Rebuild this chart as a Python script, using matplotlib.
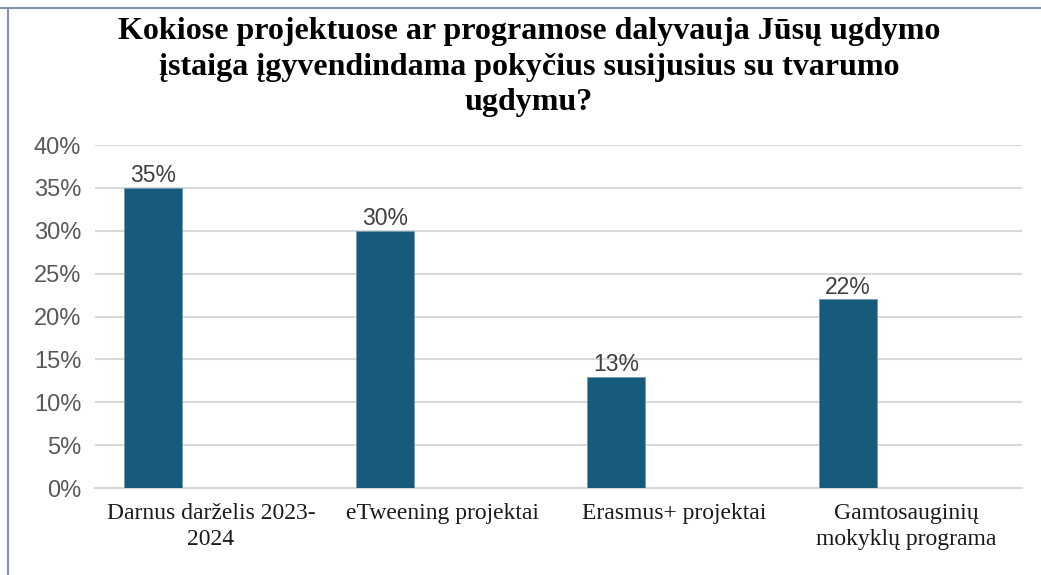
import matplotlib
matplotlib.use("Agg")
import matplotlib.pyplot as plt
from matplotlib.lines import Line2D
from matplotlib.ticker import PercentFormatter

# data
categories = ["Darnus darželis 2023-\n2024", "eTweening projektai",
              "Erasmus+ projektai", "Gamtosauginių\nmokyklų programa"]
values = [0.35, 0.30, 0.13, 0.22]
yticks = [0, 0.05, 0.10, 0.15, 0.20, 0.25, 0.30, 0.35, 0.40]

title = ("Kokiose projektuose ar programose dalyvauja Jūsų ugdymo\n"
         "įstaiga įgyvendindama pokyčius susijusius su tvarumo\n"
         "ugdymu?")

bar_color = "#175b7c"
grid_color = "#d9d9d9"

fig = plt.figure(figsize=(10.41, 5.75), dpi=100)
ax = fig.add_axes([0.0913, 0.1513, 0.8904, 0.5965])

x = list(range(len(categories)))
bars = ax.bar([i - 0.25 for i in x], values, width=0.25,
              color=bar_color, edgecolor="#6f9bb3", linewidth=0.6, zorder=3)

for b, v in zip(bars, values):
    ax.text(b.get_x() + b.get_width() / 2, v + 0.001, f"{v:.0%}",
            ha="center", va="bottom", fontsize=16.5, color="#404040",
            family="Liberation Sans", zorder=4)

ax.set_xlim(-0.5, len(categories) - 0.5)
ax.set_ylim(0, 0.40)
ax.set_yticks(yticks)
ax.yaxis.set_major_formatter(PercentFormatter(1.0, decimals=0))
ax.set_xticks(x)
ax.set_xticklabels(categories, family="Liberation Serif", fontsize=17,
                   color="#1a1a1a", linespacing=1.3)
for lab in ax.get_yticklabels():
    lab.set_family("Liberation Sans")
    lab.set_fontsize(17)
    lab.set_color("#595959")

ax.grid(axis="y", color=grid_color, linewidth=1.5, zorder=0)
ax.tick_params(axis="both", length=0)
ax.tick_params(axis="x", pad=11)
ax.tick_params(axis="y", pad=10)
for s in ["top", "right", "left"]:
    ax.spines[s].set_visible(False)
ax.spines["bottom"].set_color(grid_color)
ax.spines["bottom"].set_linewidth(1.5)

fig.text(0.508, 1 - 17 / 575, title, ha="center", va="top",
         family="Liberation Serif", fontweight="bold", fontsize=23,
         linespacing=1.3, color="black")

# thin frame edges at top and left of the picture
fig.add_artist(Line2D([0, 1], [1 - 8 / 575] * 2, transform=fig.transFigure,
                      color="#8494a6", linewidth=1.5))
fig.add_artist(Line2D([7.5 / 1041] * 2, [0, 1 - 8 / 575], transform=fig.transFigure,
                      color="#8494a6", linewidth=1.5))

fig.savefig("out.png", dpi=100)
